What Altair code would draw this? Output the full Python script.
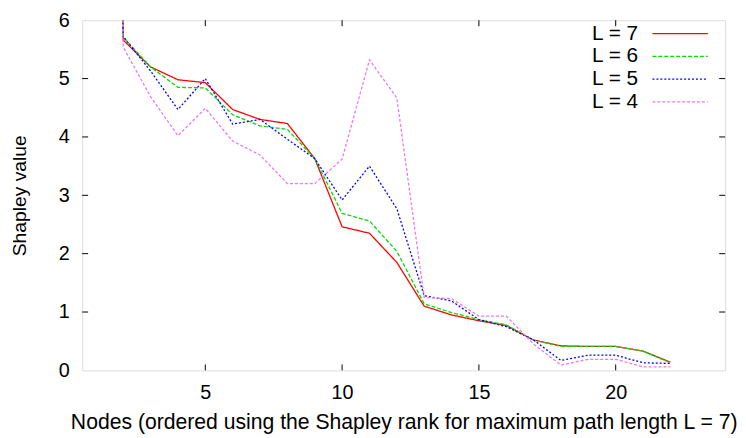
import altair as alt
import pandas as pd

nodes = list(range(1, 23))
series_names = ["L = 7", "L = 6", "L = 5", "L = 4"]
L7 = [25, 5.66, 5.20, 4.98, 4.93, 4.47, 4.30, 4.23, 3.63, 2.46, 2.35, 1.85, 1.10, 0.95, 0.85, 0.77, 0.52, 0.42, 0.41, 0.41, 0.33, 0.14]
L6 = [25, 5.71, 5.20, 4.85, 4.84, 4.38, 4.19, 4.13, 3.63, 2.69, 2.56, 2.04, 1.14, 0.99, 0.87, 0.78, 0.52, 0.41, 0.41, 0.41, 0.33, 0.13]
L5 = [25, 5.72, 5.13, 4.47, 5.00, 4.22, 4.30, 3.96, 3.63, 2.92, 3.50, 2.77, 1.28, 1.19, 0.87, 0.75, 0.52, 0.17, 0.26, 0.26, 0.13, 0.12]
L4 = [25, 5.54, 4.69, 4.02, 4.49, 3.93, 3.69, 3.20, 3.20, 3.62, 5.32, 4.67, 1.25, 1.23, 0.93, 0.93, 0.45, 0.09, 0.19, 0.19, 0.06, 0.06]
colors = ["#ff0000", "#00dd00", "#0000ff", "#ee77ee"]
dashes = [[1, 0], [4, 2], [2, 2], [3, 2]]
x_ticks = [5, 10, 15, 20]
y_ticks = [0, 1, 2, 3, 4, 5, 6]

rows = []
for name, vals in zip(series_names, [L7, L6, L5, L4]):
    for n, v in zip(nodes, vals):
        rows.append({"node": n, "value": v, "series": name})
df = pd.DataFrame(rows)

W, H = 650, 354
FONT = "Liberation Sans"

xs = alt.Scale(domain=[0.5, 24], nice=False, zero=False)
ys = alt.Scale(domain=[0, 6], nice=False, zero=False)


def make_legend():
    return alt.Legend(title=None, orient="none", legendX=594, legendY=3,
                      symbolType="M-3,0H3", symbolSize=348, symbolStrokeWidth=1.3,
                      labelFontSize=21, labelFont=FONT, labelColor="black",
                      labelAlign="right", labelOffset={"expr": "-53"}, rowPadding=1)


lines = alt.Chart(df).mark_line(clip=True, strokeWidth=1.3).encode(
    x=alt.X("node:Q", scale=xs,
            axis=alt.Axis(values=x_ticks, ticks=False, domain=False, grid=False,
                          labelFontSize=20, labelPadding=12, labelFont=FONT, labelColor="black",
                          title="Nodes (ordered using the Shapley rank for maximum path length L = 7)",
                          titleFont=FONT, titleFontSize=21.4, titleFontWeight="normal",
                          titleColor="black", titlePadding=10)),
    y=alt.Y("value:Q", scale=ys,
            axis=alt.Axis(values=y_ticks, format="d", ticks=False, domain=False, grid=False,
                          labelFontSize=20, labelPadding=13, labelFont=FONT, labelColor="black",
                          title="Shapley value", titleFont=FONT, titleFontSize=19.5,
                          titleFontWeight="normal", titleColor="black", titlePadding=29)),
    color=alt.Color("series:N", scale=alt.Scale(domain=series_names, range=colors),
                    legend=make_legend()),
    strokeDash=alt.StrokeDash("series:N", scale=alt.Scale(domain=series_names, range=dashes),
                              legend=make_legend()),
    order=alt.Order("node:Q"),
)

xt = pd.DataFrame({"t": x_ticks})
yt = pd.DataFrame({"t": y_ticks[1:-1]})
tick_bottom = alt.Chart(xt).mark_rule(color="black", strokeWidth=1).encode(
    x=alt.X("t:Q", scale=xs), y=alt.value(H), y2=alt.value(H - 6))
tick_top = alt.Chart(xt).mark_rule(color="black", strokeWidth=1).encode(
    x=alt.X("t:Q", scale=xs), y=alt.value(0), y2=alt.value(6))
tick_left = alt.Chart(yt).mark_rule(color="black", strokeWidth=1).encode(
    y=alt.Y("t:Q", scale=ys), x=alt.value(0), x2=alt.value(6))
tick_right = alt.Chart(yt).mark_rule(color="black", strokeWidth=1).encode(
    y=alt.Y("t:Q", scale=ys), x=alt.value(W), x2=alt.value(W - 6))

chart = alt.layer(lines, tick_bottom, tick_top, tick_left, tick_right).properties(
    width=W, height=H,
    autosize=alt.AutoSizeParams(type="none"),
    padding={"left": 75, "top": 10, "right": 13, "bottom": 66},
).configure_view(stroke="black", strokeWidth=1.3).configure(background="white")

chart.save("out.html", embed_options={"renderer": "svg", "actions": False})
